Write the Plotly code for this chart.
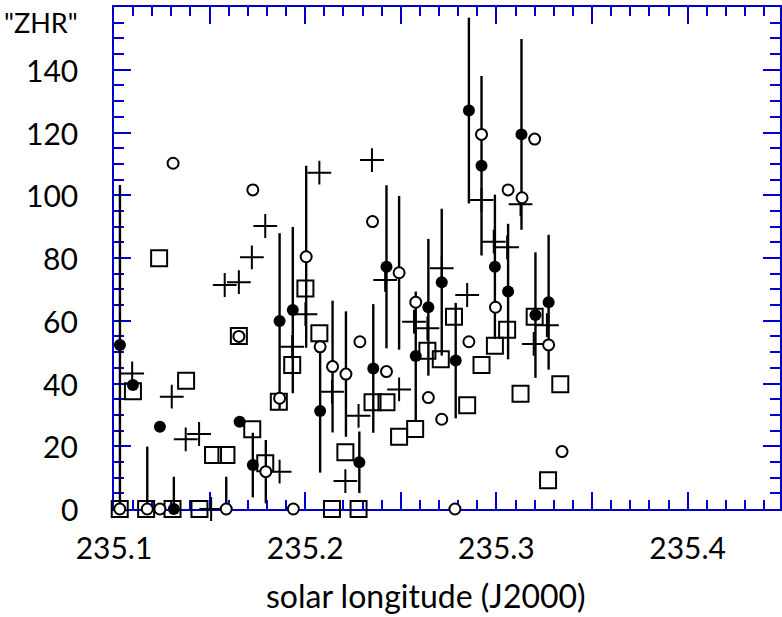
import plotly.graph_objects as go

# Filled circles (with error bars)
fc_x = [235.1031, 235.1099, 235.1240, 235.1313, 235.1657, 235.1726, 235.1866, 235.1935,
        235.2078, 235.2283, 235.2356, 235.2425, 235.2578, 235.2644, 235.2714, 235.2787,
        235.2856, 235.2922, 235.2992, 235.3061, 235.3131, 235.3204, 235.3273]
fc_y = [52.3, 39.5, 26.2, 0, 27.8, 14.0, 59.9, 63.4,
        31.2, 14.9, 44.8, 77.2, 48.8, 64.3, 72.3, 47.3,
        127.0, 109.4, 77.2, 69.3, 119.4, 61.8, 65.9]
fc_err = [51.0, 0, 0, 10.3, 0, 10.3, 28.0, 26.5,
          19.6, 9.8, 20.5, 26.0, 20.5, 21.8, 23.4, 18.4,
          29.6, 28.6, 23.0, 21.6, 30.4, 20.0, 21.5]

# Open circles
oc_x = [235.1030, 235.1174, 235.1240, 235.1309, 235.1587, 235.1653, 235.1726, 235.1794,
        235.1866, 235.1938, 235.2005, 235.2078, 235.2143, 235.2213, 235.2286, 235.2352,
        235.2425, 235.2491, 235.2578, 235.2644, 235.2714, 235.2783, 235.2856, 235.2922,
        235.2995, 235.3061, 235.3134, 235.3200, 235.3273, 235.3343]
oc_y = [0, 0, 0, 110.2, 0, 55.0, 101.7, 11.9,
        35.3, 0, 80.4, 51.7, 45.4, 43.0, 53.3, 91.6,
        43.8, 75.3, 65.9, 35.5, 28.6, 0, 53.3, 119.4,
        64.3, 101.7, 99.2, 117.9, 52.3, 18.3]
oc_err = [0, 19.9, 0, 0, 10.3, 0, 0, 10.1,
          0, 0, 29.0, 0, 21.0, 20.0, 0, 0,
          0, 24.5, 0, 0, 0, 0, 0, 0,
          0, 0, 0, 0, 0, 0]

# Open squares
sq_x = [235.1030, 235.1099, 235.1168, 235.1236, 235.1306, 235.1377, 235.1447, 235.1518,
        235.1588, 235.1653, 235.1723, 235.1791, 235.1862, 235.1932, 235.2001, 235.2074,
        235.2140, 235.2210, 235.2279, 235.2352, 235.2425, 235.2491, 235.2575, 235.2639,
        235.2709, 235.2778, 235.2847, 235.2922, 235.2992, 235.3056, 235.3126, 235.3200,
        235.3270, 235.3334]
sq_y = [0, 37.5, 0, 79.9, 0, 40.9, 0, 17.2,
        17.2, 55.1, 25.4, 14.6, 34.2, 45.9, 70.3, 56.0,
        0, 18.1, 0, 34.0, 34.0, 23.0, 25.5, 50.4,
        47.7, 61.3, 33.1, 45.9, 52.0, 57.1, 36.7, 61.3,
        9.2, 39.8]

# Plus signs
pl_x = [235.1095, 235.1302, 235.1375, 235.1445, 235.1508, 235.1579, 235.1653, 235.1721,
        235.1791, 235.1866, 235.1932, 235.2001, 235.2074, 235.2140, 235.2210, 235.2279,
        235.2349, 235.2418, 235.2491, 235.2569, 235.2639, 235.2714, 235.2847, 235.2922,
        235.2986, 235.3056, 235.3126, 235.3195, 235.3264]
pl_y = [43.2, 35.8, 22.2, 23.9, 0, 71.4, 72.3, 80.2,
        90.2, 11.9, 51.7, 62.1, 107.2, 37.4, 8.9, 29.7,
        111.2, 73.0, 38.1, 59.7, 57.6, 76.7, 68.2, 98.5,
        85.2, 83.4, 97.1, 52.6, 58.6]

x_ticks = [235.1, 235.15, 235.2, 235.25, 235.3, 235.35, 235.4, 235.45]
x_labels = ["235.1", "", "235.2", "", "235.3", "", "235.4", ""]
y_ticks = [0, 20, 40, 60, 80, 100, 120, 140]

BLUE = "rgb(0,0,205)"
FONT = "Lato"
TICK_SIZE = 30
LABEL_X = -0.051  # right edge of the y labels, in paper units


def err_minus(vals, errs):
    # keep bars of zero-valued points above the axis
    return [min(v, e) for v, e in zip(vals, errs)]


fig = go.Figure()

fig.add_trace(go.Scatter(
    x=sq_x, y=sq_y, mode="markers", cliponaxis=False,
    marker=dict(symbol="square-open", size=16, color="black", line=dict(width=2, color="black")),
))
fig.add_trace(go.Scatter(
    x=pl_x, y=pl_y, mode="markers", cliponaxis=False,
    marker=dict(symbol="cross-thin", size=17, color="black", line=dict(width=2, color="black")),
))
fig.add_trace(go.Scatter(
    x=fc_x, y=fc_y, mode="markers", cliponaxis=False,
    marker=dict(symbol="circle", size=12, color="black", line=dict(width=0)),
    error_y=dict(type="data", symmetric=False, array=fc_err,
                 arrayminus=err_minus(fc_y, fc_err), color="black", thickness=2.4, width=0),
))
fig.add_trace(go.Scatter(
    x=oc_x, y=oc_y, mode="markers", cliponaxis=False,
    marker=dict(symbol="circle", size=11, color="white", line=dict(width=2, color="black")),
    error_y=dict(type="data", symmetric=False, array=oc_err,
                 arrayminus=err_minus(oc_y, oc_err), color="black", thickness=2.4, width=0),
))

# y tick labels, right-aligned in a column together with the caption
for v in y_ticks:
    fig.add_annotation(
        text=str(v), xref="paper", yref="y", x=LABEL_X, y=v,
        xanchor="right", yanchor="middle", showarrow=False,
        font=dict(family=FONT, size=TICK_SIZE, color="black"),
    )
fig.add_annotation(
    text='"ZHR"', xref="paper", yref="paper", x=LABEL_X, y=0.97,
    xanchor="right", yanchor="middle", showarrow=False,
    font=dict(family=FONT, size=27, color="black"),
)
# x-axis caption
fig.add_annotation(
    text="solar longitude (J2000)", xref="paper", yref="paper", x=0.4686, y=-0.1733,
    xanchor="center", yanchor="middle", showarrow=False, borderpad=0,
    font=dict(family=FONT, size=32, color="black"),
)

fig.update_layout(
    width=782, height=617,
    margin=dict(l=114, r=0, t=7, b=108),
    plot_bgcolor="white", paper_bgcolor="white",
    showlegend=False,
    font=dict(family=FONT, size=TICK_SIZE, color="black"),
    xaxis=dict(
        range=[235.1, 235.4483], tickmode="array", tickvals=x_ticks, ticktext=x_labels,
        ticks="inside", ticklen=17, tickwidth=2, tickcolor=BLUE,
        showline=True, linecolor=BLUE, linewidth=2, mirror="allticks",
        showgrid=False, zeroline=False, layer="below traces",
        ticklabelstandoff=12,
        minor=dict(dtick=0.01, ticks="inside", ticklen=9, tickwidth=2, tickcolor=BLUE, showgrid=False),
    ),
    yaxis=dict(
        range=[0, 160], tickmode="array", tickvals=y_ticks, showticklabels=False,
        ticks="inside", ticklen=17, tickwidth=2, tickcolor=BLUE,
        showline=True, linecolor=BLUE, linewidth=2, mirror="allticks",
        showgrid=False, zeroline=False, layer="below traces",
        minor=dict(dtick=5, ticks="inside", ticklen=10, tickwidth=2, tickcolor=BLUE, showgrid=False),
    ),
)

fig.write_html("out.html")
